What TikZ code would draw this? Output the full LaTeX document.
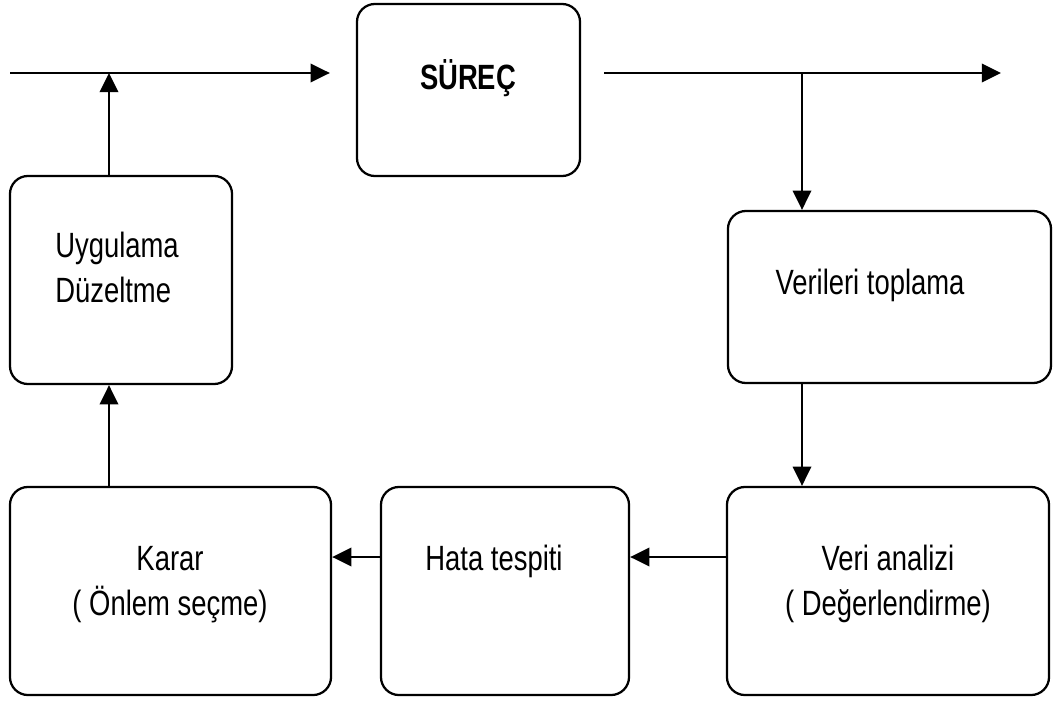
\documentclass[tikz,border=0pt]{standalone}
\usepackage{fontspec}
\setmainfont{Liberation Sans}
\usetikzlibrary{arrows.meta}
\newcommand\tallbox[1]{\scalebox{1}[1.28]{#1}}

\begin{document}
\begin{tikzpicture}[x=0.025cm,y=-0.025cm,
    box/.style={draw, line width=1.6pt, rounded corners=0.45cm, inner sep=0pt},
    txt/.style={inner sep=0pt, font=\fontsize{19.5}{25}\selectfont},
    arr/.style={line width=1.6pt, -{Triangle[length=0.48cm,width=0.46cm]}}]
    \useasboundingbox (0,0) rectangle (1054,702);

    % boxes
    \node[box, minimum width=5.575cm, minimum height=4.3cm] (surec) at (468.5,90) {};
    \node[box, minimum width=5.55cm, minimum height=5.2cm] (uyg) at (121,280) {};
    \node[box, minimum width=8.075cm, minimum height=4.3cm] (veriler) at (889.5,297) {};
    \node[box, minimum width=8.05cm, minimum height=5.2cm] (analiz) at (888,591) {};
    \node[box, minimum width=6.2cm, minimum height=5.2cm] (hata) at (505,591) {};
    \node[box, minimum width=8.025cm, minimum height=5.2cm] (karar) at (170.5,591) {};

    % texts
    \node[txt, font=\fontsize{19.5}{25}\selectfont\bfseries] (surectext) at (468,78) {\tallbox{SÜREÇ}};
    \node[txt, anchor=base west] (uygtext) at (55,258) {\tallbox{\begin{tabular}[t]{@{}l@{}}Uygulama\\Düzeltme\end{tabular}}};
    \node[txt, anchor=base] (verilertext) at (870,295) {\tallbox{Verileri toplama}};
    \node[txt, anchor=base] (analiztext) at (888,570) {\tallbox{\begin{tabular}[t]{@{}c@{}}Veri analizi\\( Değerlendirme)\end{tabular}}};
    \node[txt, anchor=base] (hatatext) at (494,570) {\tallbox{Hata tespiti}};
    \node[txt, anchor=base] (karartext) at (170,570) {\tallbox{\begin{tabular}[t]{@{}c@{}}Karar\\( Önlem seçme)\end{tabular}}};

    % main line
    \coordinate (in) at (10,73);
    \coordinate (out) at (1001,73);
    \coordinate (split) at (802,73);
    \coordinate (join) at (109,73);
    \coordinate (row) at (0,557);
    \draw[arr, shorten >=0.65cm] (in) -- (in -| surec.west);
    \draw[arr, shorten <=0.575cm] (in -| surec.east) -- (out);

    % loop
    \draw[arr] (split) -- (split |- veriler.north);
    \draw[arr] (split |- veriler.south) -- (split |- analiz.north);
    \draw[arr] (row -| analiz.west) -- (row -| hata.east);
    \draw[arr] (row -| hata.west) -- (row -| karar.east);
    \draw[arr] (join |- karar.north) -- (join |- uyg.south);
    \draw[arr] (join |- uyg.north) -- (join);

\end{tikzpicture}
\end{document}
